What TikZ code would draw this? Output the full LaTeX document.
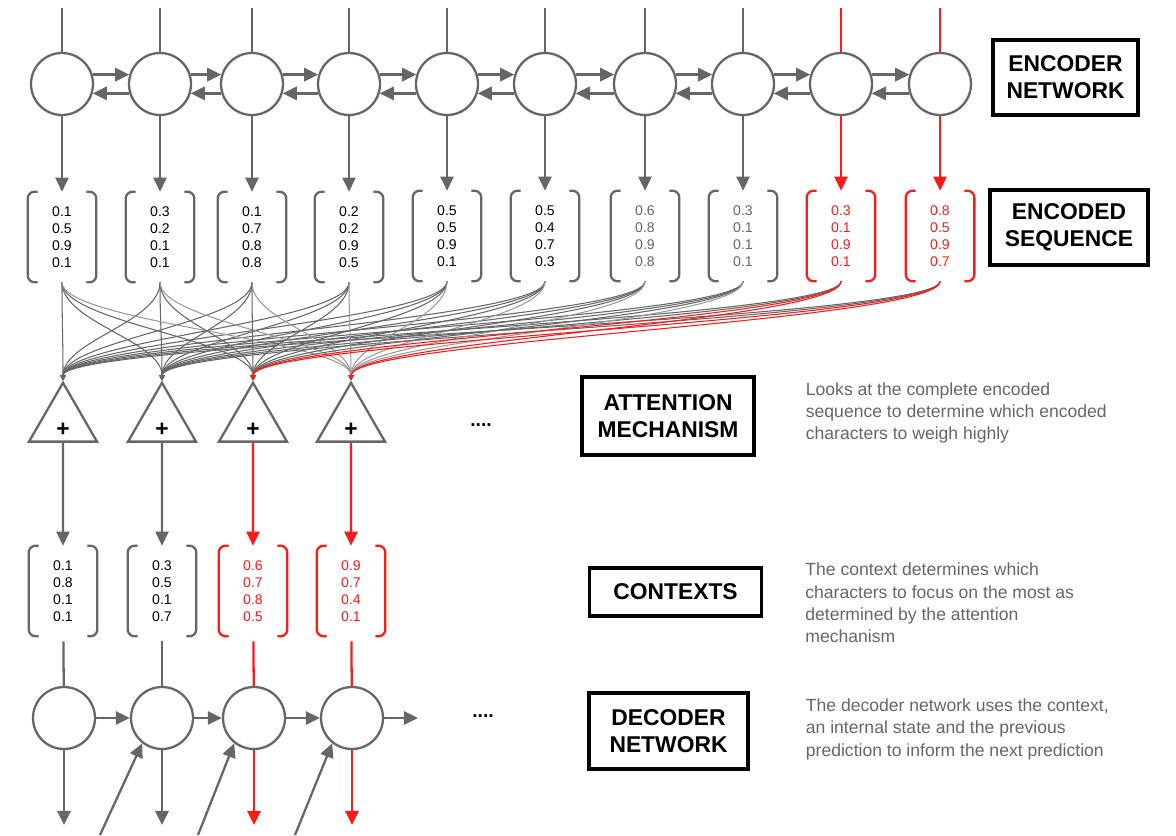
\documentclass[tikz,border=0pt]{standalone}
\usepackage{fontspec}
\setmainfont{Liberation Sans}
\usepackage{tikz}
\usetikzlibrary{positioning,arrows.meta,shapes.geometric,calc}
\definecolor{netgray}{HTML}{666666}
\definecolor{lightgray}{HTML}{9A9A9A}
\definecolor{hot}{HTML}{FF1A1A}
\tikzset{
  cell/.style    = {draw, netgray, circle, line width=1.3pt, minimum size=1.24cm, inner sep=0pt},
  vec/.style     = {align=center, inner sep=0pt, minimum width=1.36cm, minimum height=1.8cm,
                    font=\fontsize{8}{9.6}\selectfont},
  sumbox/.style  = {draw=netgray, regular polygon, regular polygon sides=3, line width=1.3pt,
                    minimum size=1.57cm, inner sep=0pt, font=\bfseries\fontsize{13}{13}\selectfont},
  tag/.style     = {draw, line width=1.8pt, align=center, inner sep=0pt,
                    font=\bfseries\fontsize{13}{15.3}\selectfont},
  note/.style    = {align=left, text=netgray, inner sep=0pt, font=\fontsize{10}{12.7}\selectfont},
  arrow/.style   = {-{Triangle[length=8pt,width=7.5pt]}, line width=1.3pt, netgray},
  wire/.style    = {line width=1.3pt, netgray},
  att/.style     = {-{Triangle[length=3pt,width=3pt]}, line width=0.6pt, netgray},
  bracket/.style = {line width=1.3pt, rounded corners=4pt},
}
% brackets round a vector node
\newcommand{\vbrackets}[2][netgray]{%
  \draw[bracket, #1] ($(#2.north west)+(10,0)$) -- (#2.north west) -- (#2.south west) -- ($(#2.south west)+(10,0)$);
  \draw[bracket, #1] ($(#2.north east)+(-10,0)$) -- (#2.north east) -- (#2.south east) -- ($(#2.south east)+(-10,0)$);}
\newcommand{\plussign}{\smash{\raisebox{-8.5pt}{+}}}

\begin{document}
\begin{tikzpicture}[x=0.02cm, y=-0.02cm]
  \useasboundingbox (0,0) rectangle (1176,835);

  % encoder network
  \foreach \x [count=\i] in {62,160,252,349,447,545,645,743,841,940} {
    \node[cell] (e\i) at (\x,84) {};
    \coordinate (top\i) at (\x,8);
  }
  \foreach \i in {1,...,8} \draw[wire] (top\i) -- (e\i);
  \foreach \i in {9,10} \draw[wire, hot] (top\i) -- (e\i);
  \foreach \i [evaluate=\i as \j using int(\i+1)] in {1,...,9} {
    \draw[arrow] (e\i.17) -- (e\j.163);
    \draw[arrow] (e\j.-163) -- (e\i.-17);
  }

  % encoded sequence
  \node[vec] (s1) at (62,237)  {0.1\\0.5\\0.9\\0.1};
  \node[vec] (s2) at (160,237) {0.3\\0.2\\0.1\\0.1};
  \node[vec] (s3) at (252,237) {0.1\\0.7\\0.8\\0.8};
  \node[vec] (s4) at (349,237) {0.2\\0.2\\0.9\\0.5};
  \node[vec] (s5) at (447,236) {0.5\\0.5\\0.9\\0.1};
  \node[vec] (s6) at (545,236) {0.5\\0.4\\0.7\\0.3};
  \node[vec, text=netgray] (s7) at (645,236) {0.6\\0.8\\0.9\\0.8};
  \node[vec, text=netgray] (s8) at (743,236) {0.3\\0.1\\0.1\\0.1};
  \node[vec, text=hot] (s9)  at (841,236) {0.3\\0.1\\0.9\\0.1};
  \node[vec, text=hot] (s10) at (940,236) {0.8\\0.5\\0.9\\0.7};
  \foreach \i in {1,...,8} {
    \vbrackets{s\i}
    \draw[arrow] (e\i) -- (s\i);
  }
  \foreach \i in {9,10} {
    \vbrackets[hot]{s\i}
    \draw[arrow, hot] (e\i) -- (s\i);
  }

  % attention mechanism
  \node[sumbox] (t1) at (63,422)  {\plussign};
  \node[sumbox] (t2) at (162,422) {\plussign};
  \node[sumbox] (t3) at (253,422) {\plussign};
  \node[sumbox] (t4) at (351,422) {\plussign};
  \node[font=\bfseries\fontsize{11}{11}\selectfont] (attdots) at (481,425) {....};
  \foreach \j in {1,...,10} \foreach \i in {1,2}
    \draw[att] (s\j.south) .. controls +(0,40) and +(0,-40) .. (t\i.corner 1);
  \foreach \j in {1,...,8} {
    \draw[att] (s\j.south) .. controls +(0,40) and +(0,-40) .. (t3.corner 1);
    \draw[att, lightgray] (s\j.south) .. controls +(0,40) and +(0,-40) .. (t4.corner 1);
  }
  \foreach \j in {9,10} \foreach \i in {3,4}
    \draw[att, hot] (s\j.south) .. controls +(0,40) and +(0,-40) .. (t\i.corner 1);

  % contexts
  \node[vec] (c1) at (63,591)  {0.1\\0.8\\0.1\\0.1};
  \node[vec] (c2) at (162,591) {0.3\\0.5\\0.1\\0.7};
  \node[vec, text=hot] (c3) at (253,591) {0.6\\0.7\\0.8\\0.5};
  \node[vec, text=hot] (c4) at (351,591) {0.9\\0.7\\0.4\\0.1};
  \foreach \i in {1,2} {\vbrackets{c\i} \draw[arrow] (t\i) -- (c\i);}
  \foreach \i in {3,4} {\vbrackets[hot]{c\i} \draw[arrow, hot] (t\i) -- (c\i);}

  % decoder network
  \foreach \x [count=\i] in {64,162,254,352} {
    \node[cell] (d\i) at (\x,718) {};
    \coordinate (y\i) at (\x,825);
  }
  \coordinate (dnext) at (418,718);
  \coordinate (p2) at (100,835);
  \coordinate (p3) at (198,835);
  \coordinate (p4) at (295,835);
  \node[font=\bfseries\fontsize{11}{11}\selectfont] (decdots) at (483,716) {....};
  \foreach \i in {1,2} {
    \draw[wire, shorten <=2.8pt] (c\i) -- (d\i);
    \draw[arrow] (d\i) -- (y\i);
  }
  \foreach \i in {3,4} {
    \draw[wire, hot, shorten <=2.8pt] (c\i) -- (d\i);
    \draw[arrow, hot] (d\i) -- (y\i);
  }
  \draw[arrow] (d1) -- (d2);
  \draw[arrow] (d2) -- (d3);
  \draw[arrow] (d3) -- (d4);
  \draw[arrow] (d4) -- (dnext);
  \foreach \i in {2,3,4} \draw[arrow] (p\i) -- (d\i.232);

  % labels and notes
  \node[tag, minimum width=2.9cm, minimum height=1.5cm]   (encl) at (1065.5,77.5) {ENCODER\\NETWORK};
  \node[tag, minimum width=3.16cm, minimum height=1.5cm]  (seql) at (1069,227.5)  {ENCODED\\SEQUENCE};
  \node[tag, minimum width=3.44cm, minimum height=1.56cm] (attl) at (668,416)     {ATTENTION\\MECHANISM};
  \node[tag, minimum width=3.44cm, minimum height=0.96cm] (ctxl) at (675.5,592)   {CONTEXTS};
  \node[tag, minimum width=3.18cm, minimum height=1.52cm] (decl) at (668.5,731)   {DECODER\\NETWORK};
  \node[note, right=1.0cm of attl, yshift=1.7pt] (attn)
       {Looks at the complete encoded\\sequence to determine which encoded\\characters to weigh highly};
  \node[note, right=0.84cm of ctxl, yshift=-6.2pt] (ctxn)
       {The context determines which\\characters to focus on the most as\\determined by the attention\\mechanism};
  \node[note, right=1.12cm of decl, yshift=1pt] (decn)
       {The decoder network uses the context,\\an internal state and the previous\\prediction to inform the next prediction};
\end{tikzpicture}
\end{document}
